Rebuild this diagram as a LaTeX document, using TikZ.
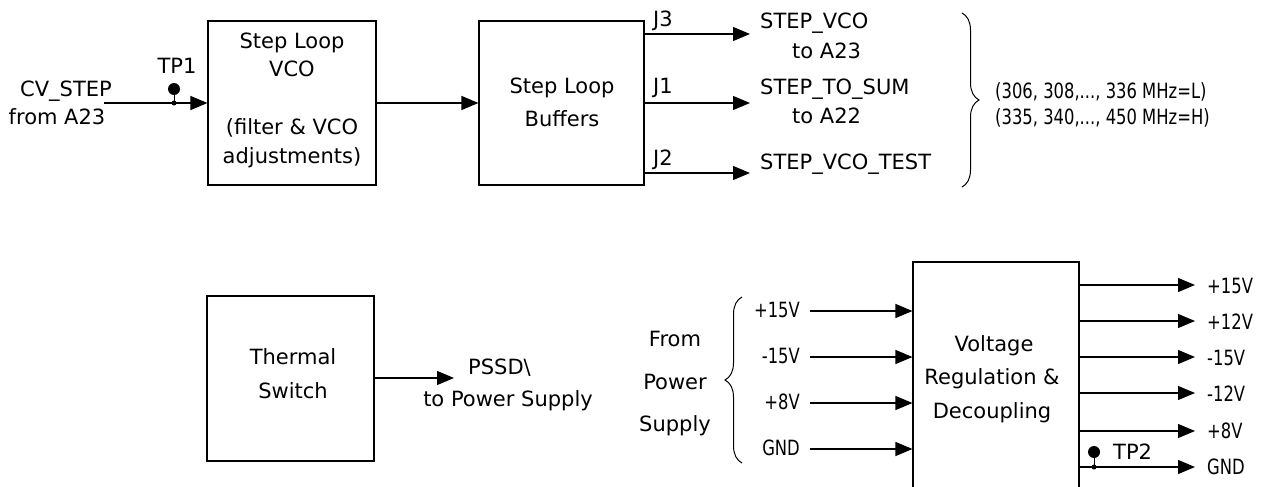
\documentclass[tikz,border=0pt]{standalone}
\usepackage{fontspec}
\usepackage{graphicx}
\setmainfont{DejaVu Sans}
\usetikzlibrary{arrows.meta,decorations.pathreplacing}
\newcommand{\nrw}[1]{\scalebox{0.78}[1]{#1}}
\begin{document}
\begin{tikzpicture}[x=1pt,y=-1pt,
  box/.style={draw, line width=1.1pt, inner sep=0pt},
  conn/.style={line width=1.2pt, -{Triangle[length=17pt,width=14pt]}},
  lbl/.style={font=\fontsize{21}{25}\selectfont, inner sep=0pt, anchor=mid, yshift=-4pt},
  brc/.style={line width=1pt, decorate, decoration={brace, amplitude=17pt}},
  tpdot/.style={circle, fill, inner sep=0pt, minimum size=12pt}]
\useasboundingbox (0,0) rectangle (1261,487);
\clip (0,0) rectangle (1261,487);

% ---------- boxes
\node[box, minimum width=168pt, minimum height=164pt] (vco) at (292,103) {};
\node[box, minimum width=165pt, minimum height=164pt] (buf) at (561.5,103) {};
\node[box, minimum width=167pt, minimum height=165pt] (ts) at (290.5,378.5) {};
\node[box, minimum width=166pt, minimum height=258pt] (vr) at (996,391) {};

% ---------- box texts
\node[lbl] (vcot1) at (292,42) {Step Loop};
\node[lbl] (vcot2) at (292,70) {VCO};
\node[lbl] (vcot3) at (292,128) {(filter \& VCO};
\node[lbl] (vcot4) at (292,157) {adjustments)};
\node[lbl] (buft1) at (562,87) {Step Loop};
\node[lbl] (buft2) at (562,120) {Buffers};
\node[lbl] (tst1) at (293,358) {Thermal};
\node[lbl] (tst2) at (293,392) {Switch};
\node[lbl] (vrt1) at (994,345) {Voltage};
\node[lbl] (vrt2) at (992,378) {Regulation \&};
\node[lbl] (vrt3) at (992,412) {Decoupling};

% ---------- CV_STEP input
\node[lbl] (cv1) at (66,90) {CV\_STEP};
\node[lbl] (cv2) at (57,118) {from A23};
\coordinate (cvin) at (104,103);
\draw[conn] (cvin) -- (vco.west);
\coordinate (tp1j) at (174,103);
\node[tpdot] (tp1) at (174,89) {};
\draw[line width=1pt] (tp1) -- (tp1j);
\fill (tp1j) circle (2.5);
\node[lbl] (tp1l) at (177,67) {TP1};

% ---------- VCO to buffers
\draw[conn] (vco) -- (buf);

% ---------- buffer outputs
\coordinate (j3e) at (750,34);
\coordinate (j1e) at (750,103);
\coordinate (j2e) at (750,173);
\draw[conn] (buf.east |- j3e) -- (j3e);
\draw[conn] (buf.east |- j1e) -- (j1e);
\draw[conn] (buf.east |- j2e) -- (j2e);
\node[lbl, anchor=mid west] (j3l) at (653,20) {J3};
\node[lbl, anchor=mid west] (j1l) at (653,87) {J1};
\node[lbl, anchor=mid west] (j2l) at (653,159) {J2};

\node[lbl, anchor=mid west] (s1) at (760,22) {STEP\_VCO};
\node[lbl, anchor=mid west] (s1b) at (792,52) {to A23};
\node[lbl, anchor=mid west] (s2) at (760,88) {STEP\_TO\_SUM};
\node[lbl, anchor=mid west] (s2b) at (792,117) {to A22};
\node[lbl, anchor=mid west] (s3) at (760,163) {STEP\_VCO\_TEST};

\draw[brc] (962,13) -- (962,187);
\node[lbl, anchor=mid west] (f1) at (995,92) {\nrw{(306, 308,..., 336 MHz=L)}};
\node[lbl, anchor=mid west] (f2) at (995,118) {\nrw{(335, 340,..., 450 MHz=H)}};

% ---------- thermal switch
\coordinate (pssd) at (454,378);
\draw[conn] (ts.east |- pssd) -- (pssd);
\node[lbl, anchor=mid west] (pssdl) at (468,368) {PSSD\textbackslash};
\node[lbl] (pssdl2) at (508,400) {to Power Supply};

% ---------- power inputs
\coordinate (in1) at (810,311);
\coordinate (in2) at (810,357);
\coordinate (in3) at (810,403);
\coordinate (in4) at (810,449);
\draw[conn] (in1) -- (vr.west |- in1);
\draw[conn] (in2) -- (vr.west |- in2);
\draw[conn] (in3) -- (vr.west |- in3);
\draw[conn] (in4) -- (vr.west |- in4);
\node[lbl, anchor=mid east] (in1l) at (800,311) {\nrw{+15V}};
\node[lbl, anchor=mid east] (in2l) at (800,357) {\nrw{-15V}};
\node[lbl, anchor=mid east] (in3l) at (800,403) {\nrw{+8V}};
\node[lbl, anchor=mid east] (in4l) at (800,449) {\nrw{GND}};
\draw[brc] (742,463) -- (742,297);
\node[lbl] (fp1) at (675,340) {From};
\node[lbl] (fp2) at (675,383) {Power};
\node[lbl] (fp3) at (675,425) {Supply};

% ---------- regulated outputs
\coordinate (out1) at (1195,285);
\coordinate (out2) at (1195,321);
\coordinate (out3) at (1195,357);
\coordinate (out4) at (1195,393);
\coordinate (out5) at (1195,431);
\coordinate (out6) at (1195,467);
\draw[conn] (vr.east |- out1) -- (out1);
\draw[conn] (vr.east |- out2) -- (out2);
\draw[conn] (vr.east |- out3) -- (out3);
\draw[conn] (vr.east |- out4) -- (out4);
\draw[conn] (vr.east |- out5) -- (out5);
\draw[conn] (vr.east |- out6) -- (out6);
\node[lbl, anchor=mid west] (o1l) at (1207,287) {\nrw{+15V}};
\node[lbl, anchor=mid west] (o2l) at (1207,323) {\nrw{+12V}};
\node[lbl, anchor=mid west] (o3l) at (1207,359) {\nrw{-15V}};
\node[lbl, anchor=mid west] (o4l) at (1207,395) {\nrw{-12V}};
\node[lbl, anchor=mid west] (o5l) at (1207,432) {\nrw{+8V}};
\node[lbl, anchor=mid west] (o6l) at (1207,468) {\nrw{GND}};
\coordinate (tp2j) at (1094,467);
\node[tpdot] (tp2) at (1094,452) {};
\draw[line width=1pt] (tp2) -- (tp2j);
\fill (tp2j) circle (2.5);
\node[lbl, anchor=mid west] (tp2l) at (1113,453) {TP2};
\end{tikzpicture}
\end{document}
